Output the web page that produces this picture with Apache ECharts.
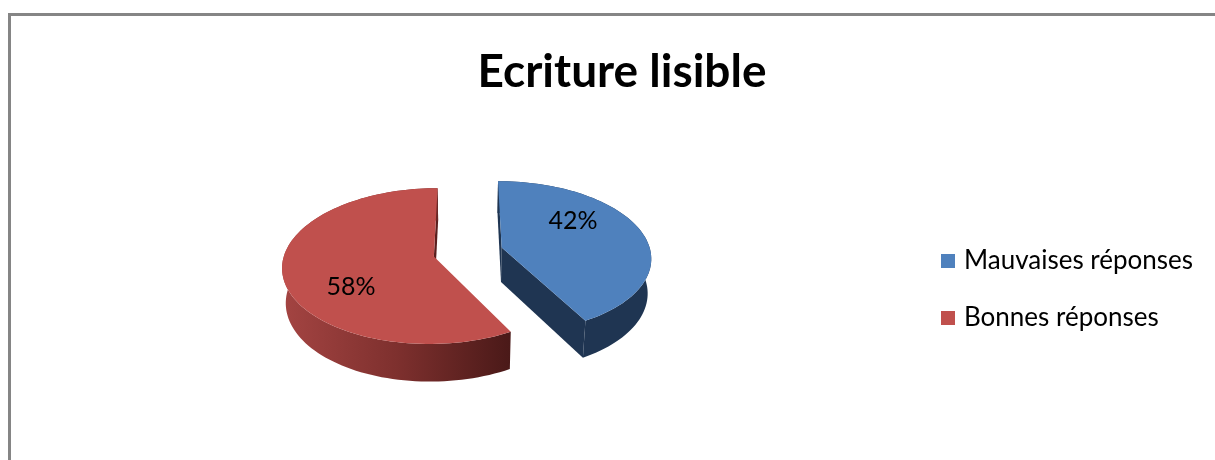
<!DOCTYPE html>
<html>
<head>
<meta charset="utf-8">
<script src="https://cdn.jsdelivr.net/npm/echarts@6/dist/echarts.min.js"></script>
<style>
  html, body { margin: 0; padding: 0; background: #fff; }
  #chart { width: 1215px; height: 460px; }
</style>
</head>
<body>
<div id="chart"></div>
<script>
  // data
  const titleText = 'Ecriture lisible';
  const categories = ['Mauvaises réponses', 'Bonnes réponses'];
  const values = [42, 58];

  // colours: top face, wall, cut face
  const topColors = ['#4f81bd', '#c0504d'];
  const wallColors = ['#1f3552', null];   // null -> gradient
  const cutColors = ['#1f3552', '#5a1f1e'];

  // 3d projection settings (pixels)
  const CX = 468, CY = 252;     // projected centre of the top face
  const R = 149;                // radius
  const D = 1050;               // camera distance
  const PHI = 30.5 * Math.PI / 180;
  const H = 41;                 // thickness
  const EXPLODE = 35;
  const cosP = Math.cos(PHI), sinP = Math.sin(PHI);

  const total = values.reduce((a, b) => a + b, 0);
  const starts = [];
  let acc = 0;
  for (let i = 0; i < values.length; i++) {
    starts.push(acc / total * 360);
    acc += values[i];
  }

  function project(x, h, z) {
    let depth = D - (z * cosP + h * sinP);
    let yc = h * cosP - z * sinP;
    let k = D / depth;
    return [CX + x * k, CY - yc * k];
  }
  function rad(a) { return a * Math.PI / 180; }

  function renderSlice(i) {
    return function (params, api) {
      let v = api.value(0);
      let a1 = starts[i];
      let a2 = a1 + v / total * 360;
      let mid = (a1 + a2) / 2;
      let ox = EXPLODE * Math.sin(rad(mid));
      let oz = -EXPLODE * Math.cos(rad(mid));
      let rim = function (a, h) {
        return project(ox + R * Math.sin(rad(a)), h, oz - R * Math.cos(rad(a)));
      };
      let arcTop = [], arcBot = [];
      let steps = Math.max(2, Math.ceil((a2 - a1) / 2));
      for (let s = 0; s <= steps; s++) {
        let a = a1 + (a2 - a1) * s / steps;
        arcTop.push(rim(a, 0));
        arcBot.push(rim(a, -H));
      }
      let apexTop = project(ox, 0, oz);
      let apexBot = project(ox, -H, oz);
      let children = [];

      // cut faces (only the ones facing the camera)
      [[a1, a1 - 90], [a2, a2 + 90]].forEach(function (f) {
        let a = f[0], b = f[1];
        let px = ox + R / 2 * Math.sin(rad(a));
        let pz = oz - R / 2 * Math.cos(rad(a));
        let facing = Math.sin(rad(b)) * (0 - px) - Math.cos(rad(b)) * (D * cosP - pz);
        if (facing > 0) {
          children.push({
            type: 'polygon',
            shape: { points: [apexTop, rim(a, 0), rim(a, -H), apexBot] },
            style: { fill: cutColors[i] }
          });
        }
      });

      // outer wall
      let wallPts = arcTop.concat(arcBot.slice().reverse());
      let wallFill = wallColors[i];
      if (!wallFill) {
        let xs = wallPts.map(p => p[0]);
        wallFill = new echarts.graphic.LinearGradient(
          Math.min.apply(null, xs), 0, Math.max.apply(null, xs), 0,
          [{ offset: 0, color: '#a44442' }, { offset: 0.5, color: '#7e302e' }, { offset: 1, color: '#4a1918' }],
          true
        );
      }
      children.push({ type: 'polygon', shape: { points: wallPts }, style: { fill: wallFill } });

      // top face
      children.push({
        type: 'polygon',
        shape: { points: [apexTop].concat(arcTop) },
        style: { fill: topColors[i] }
      });

      // percentage label
      let la = mid - 22;
      let lr = R * 0.64;
      let lp = project(ox + lr * Math.sin(rad(la)), 0, oz - lr * Math.cos(rad(la)));
      children.push({
        type: 'text',
        style: {
          text: Math.round(v / total * 100) + '%',
          x: lp[0], y: lp[1],
          textAlign: 'center', textVerticalAlign: 'middle',
          fontSize: 25, fontFamily: 'Lato', fill: '#000'
        }
      });

      return { type: 'group', children: children };
    };
  }

  let chart = echarts.init(document.getElementById('chart'));
  let series = [];
  for (let i = 0; i < categories.length; i++) {
    series.push({
      name: categories[i],
      type: 'custom',
      coordinateSystem: 'none',
      silent: true,
      itemStyle: { color: topColors[i] },
      renderItem: renderSlice(i),
      data: [values[i]]
    });
  }

  chart.setOption({
    animation: false,
    title: {
      text: titleText,
      left: 617,
      textAlign: 'center',
      top: 44,
      textStyle: { fontSize: 46, fontWeight: 'bold', fontFamily: 'Lato', color: '#000' }
    },
    legend: {
      orient: 'vertical',
      left: 936,
      top: 242,
      icon: 'rect',
      itemWidth: 14,
      itemHeight: 14,
      itemGap: 29,
      data: categories,
      textStyle: { fontSize: 26, fontFamily: 'Lato', color: '#000', lineHeight: 28, padding: [0, 0, 0, 4] }
    },
    graphic: [{
      type: 'rect',
      shape: { x: 9.5, y: 14.5, width: 1220, height: 460 },
      style: { fill: 'none', stroke: '#858585', lineWidth: 3 },
      silent: true
    }],
    series: series
  });
</script>
</body>
</html>
